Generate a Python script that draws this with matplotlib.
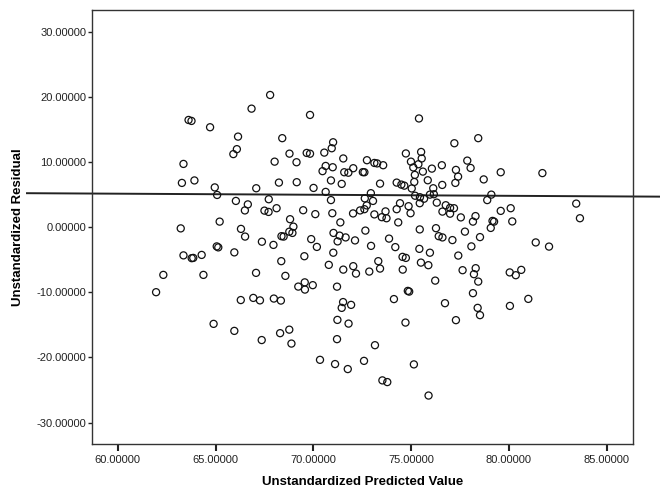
import numpy as np
import matplotlib
matplotlib.use("Agg")
import matplotlib.pyplot as plt
from matplotlib.ticker import FormatStrFormatter

plt.rcParams['font.family'] = ['Liberation Sans', 'DejaVu Sans']

# unstandardized predicted value (x) and residual (y)
pred = [63.22, 63.36, 63.28, 63.92, 63.62, 63.77, 64.72, 64.96, 65.08, 65.21,
        65.06, 65.14, 61.96, 62.33, 63.36, 63.78, 63.86, 64.29, 64.38, 64.90,
        67.79, 66.84, 69.83, 66.15, 68.41, 66.09, 65.91, 68.78, 69.66, 69.83,
        70.56, 71.01, 70.94, 71.53, 68.02, 69.14, 70.63, 70.99, 70.47, 71.58,
        71.79, 70.90, 71.45, 68.24, 69.15, 67.08, 70.01, 70.63, 66.04, 66.65,
        66.50, 67.72, 67.50, 67.71, 68.12, 69.48, 70.10, 70.90, 70.97, 71.38,
        68.81, 68.98, 68.77, 68.93, 66.30, 66.51, 68.37, 68.48, 67.37, 67.96,
        69.89, 70.18, 71.03, 71.34, 71.65, 72.13, 71.24,
        65.96, 68.36, 69.54, 71.02, 70.79, 71.53, 67.07, 68.57, 69.23, 69.56,
        69.57, 69.97, 71.21, 66.29, 66.93, 67.27, 67.98, 68.34, 71.52, 71.45,
        71.93, 71.23, 71.80, 65.96, 68.30, 68.77, 67.36, 68.88, 71.21, 70.34,
        71.11, 71.76,
        75.40, 77.21, 78.43, 74.73, 75.51, 75.54, 74.99, 75.11, 75.37, 75.19,
        75.16, 75.60, 75.85, 76.06, 76.57, 77.29, 77.40, 77.26, 77.87, 78.04,
        78.71, 79.58, 81.71, 72.74, 73.12, 73.26, 73.57, 72.04, 72.53, 72.61,
        73.41, 74.26, 74.50, 74.65, 75.03, 76.13, 76.59, 72.94, 72.63, 73.05,
        75.20, 75.45, 75.66, 75.96, 76.16, 79.10, 78.89, 83.44, 83.63, 72.73,
        72.61, 72.39, 72.03, 73.12, 73.50, 73.74, 73.69, 74.43, 74.26, 74.87,
        74.97, 75.44, 76.31, 76.77, 76.99, 77.19, 76.60, 76.99, 77.54, 78.29,
        78.16, 79.58, 80.09, 80.17, 79.16, 79.24, 79.07, 74.34, 72.66, 75.44,
        76.27, 76.41, 76.60, 77.75, 78.52, 77.11, 73.87, 72.95, 74.19, 75.42,
        78.08, 81.37, 82.05,
        75.96, 77.41, 74.56, 74.73, 73.32, 73.41, 72.86, 75.50, 75.88, 72.04,
        72.18, 74.57, 77.63, 76.23, 74.83, 74.90, 74.12, 76.73, 74.71, 77.29,
        73.15, 72.59, 75.14, 73.53, 73.78, 75.89,
        78.30, 78.21, 78.43, 80.04, 80.35, 80.63, 78.16, 78.40, 78.52, 80.05,
        80.99]

resid = [-0.15, 9.76, 6.84, 7.22, 16.52, 16.37, 15.40, 6.15, 4.99, 0.89,
         -2.92, -3.07, -9.96, -7.30, -4.30, -4.73, -4.69, -4.23, -7.30, -14.83,
         20.36, 18.26, 17.29, 13.96, 13.72, 12.03, 11.27, 11.34, 11.45, 11.33,
         11.50, 13.09, 12.17, 10.60, 10.11, 10.02, 9.45, 9.25, 8.65, 8.48,
         8.41, 7.22, 6.69, 6.89, 6.95, 6.02, 6.07, 5.46, 4.07, 3.54,
         2.61, 4.33, 2.58, 2.38, 2.95, 2.64, 2.04, 4.20, 2.18, 0.77,
         1.26, 0.12, -0.66, -0.85, -0.23, -1.41, -1.35, -1.41, -2.20, -2.69,
         -1.80, -3.00, -0.85, -1.26, -1.54, -2.00, -2.15,
         -3.84, -5.19, -4.43, -3.89, -5.76, -6.49, -6.99, -7.45, -9.10, -8.45,
         -9.56, -8.88, -9.11, -11.17, -10.84, -11.22, -10.94, -11.25, -11.48, -12.37,
         -11.91, -14.22, -14.79, -15.91, -16.26, -15.72, -17.32, -17.86, -17.18, -20.36,
         -21.01, -21.78,
         16.75, 12.94, 13.72, 11.37, 11.60, 10.60, 10.11, 9.22, 9.71, 8.07,
         6.99, 8.58, 7.25, 9.04, 9.56, 8.84, 7.81, 6.84, 10.27, 9.14,
         7.38, 8.48, 8.35, 10.33, 9.91, 9.84, 9.56, 9.10, 8.50, 8.48,
         6.73, 6.89, 6.58, 6.42, 5.99, 6.02, 6.53, 5.26, 4.46, 4.07,
         4.87, 4.64, 4.41, 5.04, 5.10, 5.04, 4.20, 3.66, 1.41, 3.38,
         2.80, 2.61, 2.15, 2.00, 1.57, 1.41, 2.46, 3.72, 2.80, 3.26,
         2.18, 3.72, 3.81, 3.41, 3.00, 2.95, 2.43, 2.11, 1.54, 1.74,
         0.89, 2.54, 2.95, 0.92, 1.00, 0.89, -0.08, 0.77, -0.49, -0.31,
         -0.12, -1.35, -1.54, -0.65, -1.49, -1.95, -1.72, -2.84, -3.03, -3.30,
         -2.92, -2.31, -2.95,
         -3.89, -4.33, -4.53, -4.69, -5.19, -6.33, -6.79, -5.41, -5.81, -5.96,
         -7.10, -6.49, -6.58, -8.18, -9.76, -9.87, -11.02, -11.65, -14.63, -14.26,
         -18.11, -20.52, -21.06, -23.52, -23.78, -25.85,
         -6.27, -7.19, -8.33, -6.92, -7.35, -6.53, -10.11, -12.37, -13.49, -12.07,
         -10.99]

# fit line end points (runs past the frame on both sides)
fit_x = [55.36, 87.72]
fit_y = [5.26, 4.73]

xticks = [60, 65, 70, 75, 80, 85]
yticks = [-30, -20, -10, 0, 10, 20, 30]

fig = plt.figure(figsize=(6.6, 4.93), dpi=100)
ax = fig.add_axes([0.139, 0.0994, 0.8206, 0.8813])

ax.scatter(pred, resid, s=26, facecolors='none', edgecolors='#111111', linewidths=0.9, zorder=3)
ax.plot(fit_x, fit_y, color='#222222', linewidth=1.4, clip_on=False, zorder=2)

ax.set_xlim(58.67, 86.36)
ax.set_ylim(-33.3, 33.5)
ax.set_xticks(xticks)
ax.set_yticks(yticks)
ax.xaxis.set_major_formatter(FormatStrFormatter('%.5f'))
ax.yaxis.set_major_formatter(FormatStrFormatter('%.5f'))
ax.tick_params(axis='x', direction='out', length=5, width=1.5, pad=3, labelsize=8, colors='#222222')
ax.tick_params(axis='y', direction='out', length=3, width=1, pad=1, labelsize=8, colors='#222222')
for sp in ax.spines.values():
    sp.set_color('#333333')
    sp.set_linewidth(1)

ax.set_xlabel('Unstandardized Predicted Value', fontsize=9.5, fontweight='bold', labelpad=8)
ax.set_ylabel('Unstandardized Residual', fontsize=9.5, fontweight='bold', labelpad=9)

fig.savefig('out.png', dpi=100)
